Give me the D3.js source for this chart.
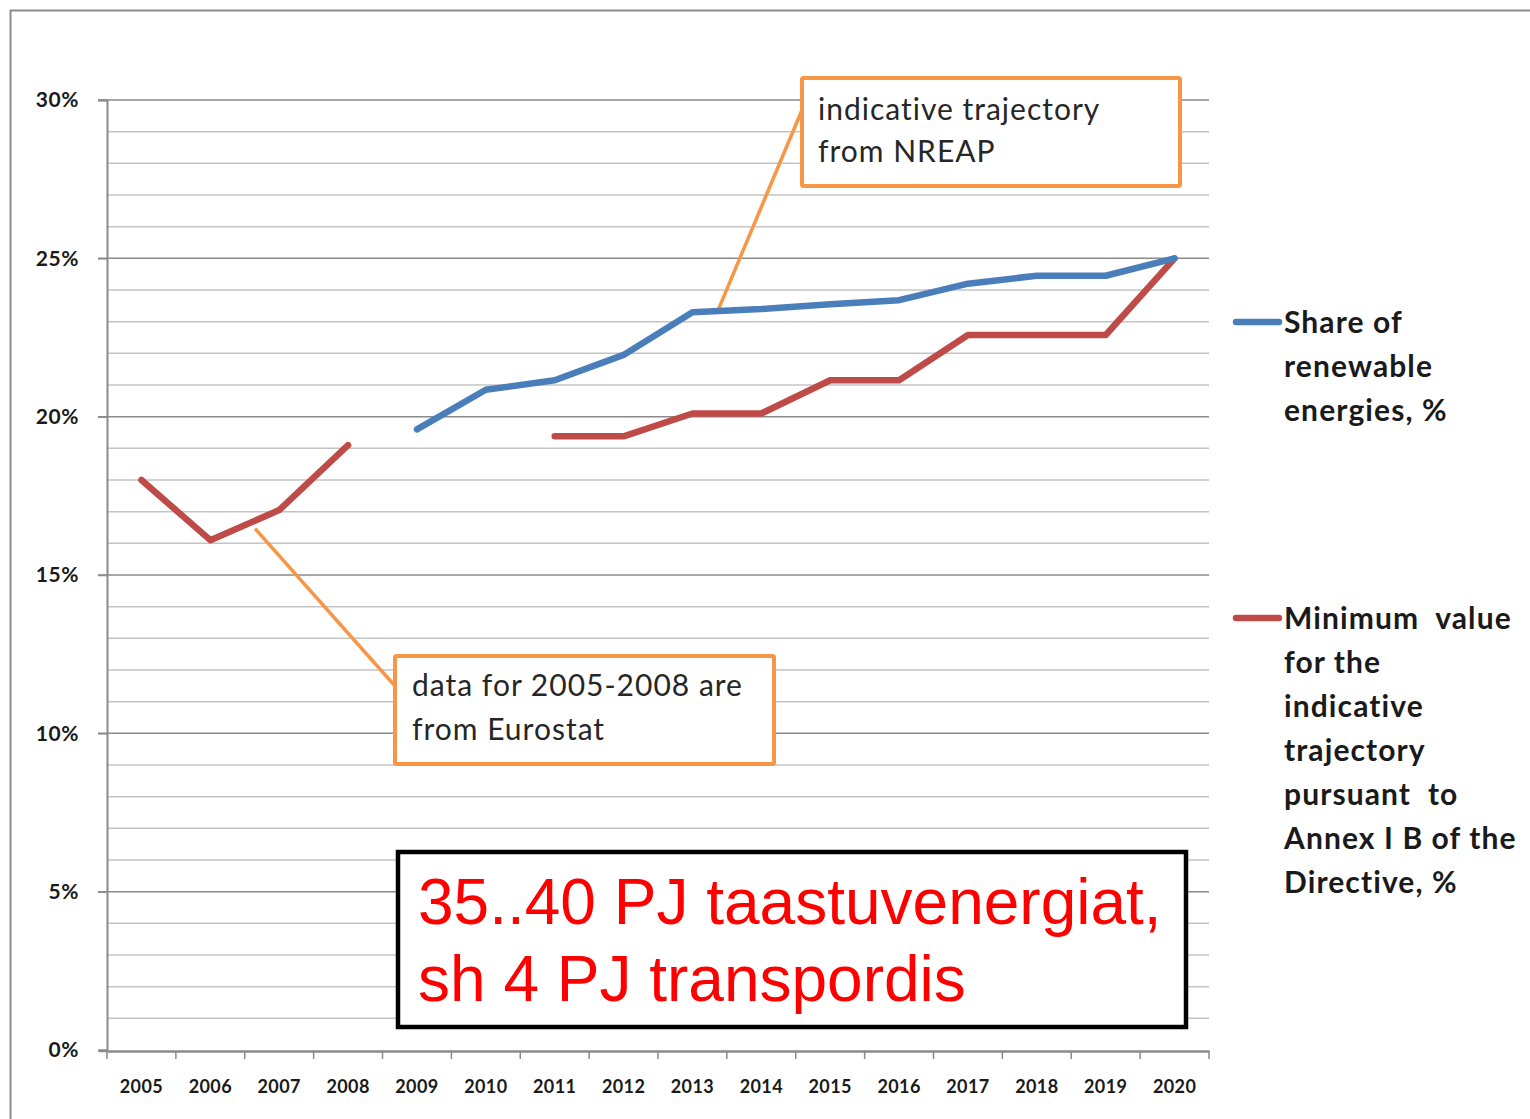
<!DOCTYPE html>
<html><head><meta charset="utf-8">
<script src="https://cdn.jsdelivr.net/npm/d3@7"></script>
<style>html,body{margin:0;padding:0;background:#fff;}svg{display:block;}</style>
</head><body>
<script>
const years = ["2005","2006","2007","2008","2009","2010","2011","2012","2013","2014","2015","2016","2017","2018","2019","2020"];
const shareRenewable = [null,null,null,null,19.6,20.85,21.15,21.95,23.3,23.4,23.55,23.68,24.2,24.45,24.45,25.0];
const minTrajectory = [18.0,16.1,17.05,19.1,null,null,19.38,19.38,20.1,20.1,21.15,21.15,22.58,22.58,22.58,25.0];
const yTicks = [0,5,10,15,20,25,30];
const yMinor = d3.range(0,31,1);
const legendShare = ["Share of","renewable","energies, %"];
const legendMin = ["Minimum  value","for the","indicative","trajectory","pursuant  to","Annex I B of the","Directive, %"];
const noteNreap = ["indicative trajectory","from NREAP"];
const noteEurostat = ["data for 2005-2008 are","from Eurostat"];
const bigNote = ["35..40 PJ taastuvenergiat,","sh 4 PJ transpordis"];

const W=1530,H=1119;
const svg=d3.select("body").append("svg").attr("width",W).attr("height",H);
const font="Lato, 'Open Sans', sans-serif";

// outer frame
svg.append("path").attr("d","M10.5,1119 V10.5 H1530").attr("fill","none").attr("stroke","#8c8c8c").attr("stroke-width",2);

const x=d3.scaleBand().domain(years).range([107,1209]).padding(0);
const y=d3.scaleLinear().domain([0,30]).range([1050,100]);
const cx=d=>x(d)+x.bandwidth()/2;

// minor gridlines
svg.append("g").selectAll("line").data(yMinor.filter(v=>v%5!==0)).join("line")
  .attr("x1",107).attr("x2",1209).attr("y1",d=>y(d)).attr("y2",d=>y(d))
  .attr("stroke","#c4c4c4").attr("stroke-width",1.5);
// major gridlines
svg.append("g").selectAll("line").data(yTicks.filter(v=>v>0)).join("line")
  .attr("x1",98).attr("x2",1209).attr("y1",d=>y(d)).attr("y2",d=>y(d))
  .attr("stroke","#8a8a8a").attr("stroke-width",1.5);

// y axis
const yAxis=d3.axisLeft(y).tickValues(yTicks).tickSize(9).tickFormat(d=>d+"%");
const gy=svg.append("g").attr("transform","translate(107,0)").call(yAxis);
gy.select(".domain").attr("stroke","#8a8a8a").attr("stroke-width",2);
gy.selectAll(".tick line").attr("stroke","#8a8a8a").attr("stroke-width",1.5);
gy.selectAll(".tick text").attr("x",-28).attr("font-family",font).attr("font-weight","bold").attr("font-size",21).attr("letter-spacing",0.6).attr("fill","#1a1a1a");

// x axis
const xAxis=d3.axisBottom(x).tickSize(0).tickSizeOuter(0);
const gx=svg.append("g").attr("transform","translate(0,1051)").call(xAxis);
gx.select(".domain").attr("stroke","#8a8a8a").attr("stroke-width",2.5);
gx.selectAll(".tick text").attr("y",29).attr("font-family",font).attr("font-weight","bold").attr("font-size",18).attr("letter-spacing",0.4).attr("fill","#1a1a1a");
// category boundary ticks
const bounds=years.map(d=>x(d)).concat([x(years[years.length-1])+x.bandwidth()]);
gx.append("g").selectAll("line").data(bounds).join("line")
  .attr("x1",d=>d).attr("x2",d=>d).attr("y1",0).attr("y2",8)
  .attr("stroke","#8a8a8a").attr("stroke-width",1.5);
gx.append("line").attr("x1",99).attr("x2",107).attr("y1",0).attr("y2",0).attr("stroke","#8a8a8a").attr("stroke-width",2.5);

// series lines
const line=d3.line().defined(d=>d.v!=null).x(d=>cx(d.k)).y(d=>y(d.v));
function drawSeries(vals,color){
  svg.append("path").datum(years.map((k,i)=>({k,v:vals[i]})))
    .attr("d",line).attr("fill","none").attr("stroke",color)
    .attr("stroke-width",6.5).attr("stroke-linejoin","round").attr("stroke-linecap","round");
}
const blue="#4a7ebb", red="#be4b48", orange="#f79646";

// callout lines (behind boxes)
const pt2013 = {x:(cx("2013")+cx("2014"))/2 - 9, y:y((shareRenewable[8]+shareRenewable[9])/2)};
svg.append("line").attr("x1",pt2013.x).attr("y1",pt2013.y).attr("x2",802).attr("y2",110)
  .attr("stroke",orange).attr("stroke-width",3.5);
const pt2006 = {x:cx("2006")+(cx("2007")-cx("2006"))*0.65, y:y(minTrajectory[1]+(minTrajectory[2]-minTrajectory[1])*0.65)+8};
svg.append("line").attr("x1",pt2006.x).attr("y1",pt2006.y).attr("x2",395).attr("y2",686)
  .attr("stroke",orange).attr("stroke-width",3.5);

drawSeries(minTrajectory,red);
drawSeries(shareRenewable,blue);

// annotation boxes
function noteBox(x0,y0,w,h,lines,tx,by,lh){
  svg.append("rect").attr("x",x0).attr("y",y0).attr("width",w).attr("height",h)
    .attr("fill","#fff").attr("stroke",orange).attr("stroke-width",4).attr("rx",1.5);
  svg.append("g").selectAll("text").data(lines).join("text")
    .attr("x",tx).attr("y",(d,i)=>by+i*lh).text(d=>d)
    .attr("font-family",font).attr("font-size",30).attr("letter-spacing",1).attr("fill","#262626");
}
noteBox(802,78,378,108,noteNreap,818,120,42);
noteBox(395,656,379,108,noteEurostat,412,696,44);

// big black box
svg.append("rect").attr("x",398).attr("y",852).attr("width",788).attr("height",175)
  .attr("fill","#fff").attr("stroke","#000").attr("stroke-width",4.5);
svg.append("g").selectAll("text").data(bigNote).join("text")
  .attr("x",418).attr("y",(d,i)=>924+i*77).text(d=>d)
  .attr("font-family","'Liberation Sans', Arial, sans-serif").attr("font-size",64).attr("fill","#ff0000");

// legend
function legend(color,ly,lines){
  svg.append("line").attr("x1",1236).attr("x2",1279).attr("y1",ly).attr("y2",ly)
    .attr("stroke",color).attr("stroke-width",6.5).attr("stroke-linecap","round");
  svg.append("g").selectAll("text").data(lines).join("text")
    .attr("x",1284).attr("y",(d,i)=>ly+11+i*44).text(d=>d)
    .attr("font-family",font).attr("font-weight","bold").attr("font-size",30).attr("letter-spacing",1.1).attr("fill","#1a1a1a")
    .style("white-space","pre").attr("xml:space","preserve");
}
legend(blue,322,legendShare);
legend(red,618,legendMin);
</script>
</body></html>
